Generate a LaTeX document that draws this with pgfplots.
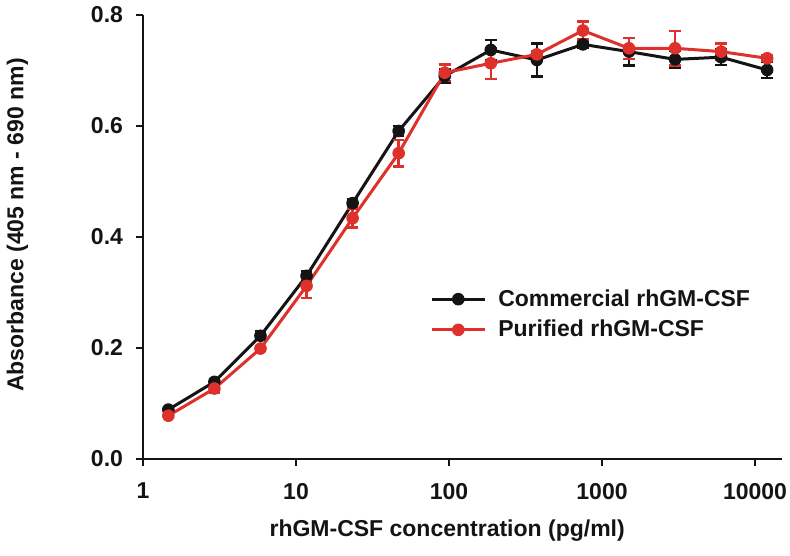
\documentclass[border=0pt]{standalone}
\usepackage{fontspec}
\setmainfont{Liberation Sans}
\usepackage{pgfplots}
\pgfplotsset{compat=1.18}
\definecolor{cblack}{RGB}{20,20,20}
\definecolor{cred}{RGB}{222,49,44}
\begin{document}
\begin{tikzpicture}
\begin{axis}[
  scale only axis,
  width=319.5pt, height=222pt,
  xmode=log, log basis x=10,
  xmin=1, xmax=15000,
  ymin=0, ymax=0.8,
  axis lines=left,
  axis line style={-, line width=1.4pt, cblack},
  tick style={line width=1.4pt, cblack},
  major tick length=3.5pt,
  tick align=outside,
  xminorticks=false,
  xtick={1,10,100,1000,10000},
  xticklabels={1,10,100,1000,10000},
  ytick={0,0.2,0.4,0.6,0.8},
  /pgf/number format/assume math mode=true,
  yticklabel style={/pgf/number format/fixed, /pgf/number format/fixed zerofill, /pgf/number format/precision=1, xshift=-3pt},
  xticklabel style={yshift=-5pt},
  every tick label/.append style={font=\fontsize{11.5}{13}\selectfont\bfseries, text=cblack},
  xlabel={rhGM-CSF concentration (pg/ml)},
  ylabel={Absorbance (405 nm - 690 nm)},
  every axis x label/.style={at={(axis description cs:0.476,-0.162)}, anchor=center, font=\fontsize{11.5}{13}\selectfont\bfseries, text=cblack},
  every axis y label/.style={at={(axis description cs:-0.1964,0.527)}, anchor=center, rotate=90, font=\fontsize{11.5}{13}\selectfont\bfseries, text=cblack},
  legend style={draw=none, fill=none, at={(axis description cs:0.449,0.392)}, anchor=north west,
    font=\fontsize{11.5}{13}\selectfont\bfseries, text=cblack, row sep=1.5pt, inner sep=0pt,
    nodes={inner xsep=6pt}},
  legend cell align=left,
  legend image code/.code={\draw[mark repeat=2, mark phase=2, #1] plot coordinates {(0pt,0pt) (13.25pt,0pt) (26.5pt,0pt)};},
  error bars/error bar style={line width=1.2pt},
]
\coordinate (bl) at (rel axis cs:0,0);
\coordinate (tr) at (rel axis cs:1,1);
\addplot[cblack, line width=1.5pt, mark=*, mark size=2.9pt, mark options={solid, line width=0.5pt, fill=cblack},
  error bars/.cd, y dir=both, y explicit, error mark options={rotate=90, mark size=2.9pt, line width=1.2pt, cblack}]
  coordinates {
  (1.4648,0.089) +- (0,0.004)
  (2.9297,0.139) +- (0,0.005)
  (5.8594,0.222) +- (0,0.008)
  (11.719,0.330) +- (0,0.009)
  (23.438,0.461) +- (0,0.007)
  (46.875,0.591) +- (0,0.009)
  (93.75,0.690) +- (0,0.013)
  (187.5,0.737) +- (0,0.018)
  (375,0.719) +- (0,0.030)
  (750,0.747) +- (0,0.007)
  (1500,0.734) +- (0,0.025)
  (3000,0.720) +- (0,0.016)
  (6000,0.724) +- (0,0.014)
  (12000,0.701) +- (0,0.014)
  };
\addlegendentry{Commercial rhGM-CSF}
\addplot[cred, line width=1.5pt, mark=*, mark size=2.9pt, mark options={solid, line width=0.5pt, fill=cred},
  error bars/.cd, y dir=both, y explicit, error mark options={rotate=90, mark size=2.9pt, line width=1.2pt, cred}]
  coordinates {
  (1.4648,0.078) +- (0,0.004)
  (2.9297,0.127) +- (0,0.007)
  (5.8594,0.199) +- (0,0.004)
  (11.719,0.312) +- (0,0.022)
  (23.438,0.434) +- (0,0.017)
  (46.875,0.551) +- (0,0.024)
  (93.75,0.696) +- (0,0.015)
  (187.5,0.713) +- (0,0.028)
  (375,0.729) +- (0,0.005)
  (750,0.772) +- (0,0.016)
  (1500,0.740) +- (0,0.019)
  (3000,0.740) +- (0,0.031)
  (6000,0.734) +- (0,0.015)
  (12000,0.722) +- (0,0.005)
  };
\addlegendentry{Purified rhGM-CSF}
\end{axis}
\pgfresetboundingbox
\path[use as bounding box] ([shift={(-71.5pt,-48.5pt)}]bl) rectangle ([shift={(4pt,7.5pt)}]tr);
\end{tikzpicture}
\end{document}
